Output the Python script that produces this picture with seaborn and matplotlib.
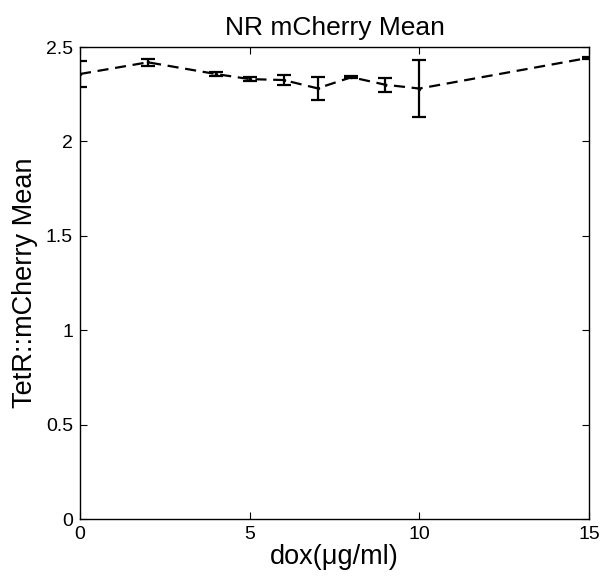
import matplotlib
matplotlib.use("Agg")
import matplotlib.pyplot as plt
import seaborn as sns
import pandas as pd

dox = [0, 2, 4, 5, 6, 7, 8, 9, 10, 15]
mean_vals = [2.357, 2.419, 2.357, 2.330, 2.325, 2.281, 2.340, 2.300, 2.280, 2.443]
err_vals = [0.067, 0.020, 0.008, 0.010, 0.025, 0.060, 0.005, 0.038, 0.152, 0.005]

df = pd.DataFrame({"dox": dox, "mean": mean_vals, "err": err_vals})

sns.set_style("white")
plt.rcParams['font.family'] = ['Liberation Sans', 'DejaVu Sans']
plt.rcParams['text.color'] = 'black'
plt.rcParams['axes.labelcolor'] = 'black'

fig = plt.figure(figsize=(6.0, 5.79), dpi=100)
ax = fig.add_axes([80/600, 1 - 519/579, (589-80)/600, (519-47)/579])

sns.lineplot(data=df, x="dox", y="mean", ax=ax, color="black", linestyle=(0, (5, 3)),
             linewidth=1.6, marker="o", markersize=2.5, markeredgewidth=0)
ax.errorbar(df["dox"], df["mean"], yerr=df["err"], fmt="none", ecolor="black",
            elinewidth=1.6, capsize=5, capthick=1.6)

ax.set_xlim(0, 15)
ax.set_ylim(0, 2.5)
ax.set_xticks([0, 5, 10, 15])
ax.set_yticks([0, 0.5, 1, 1.5, 2, 2.5])
ax.set_xticklabels(["0", "5", "10", "15"])
ax.set_yticklabels(["0", "0.5", "1", "1.5", "2", "2.5"])
ax.tick_params(direction="in", length=5, width=0.8, top=True, right=True,
               left=True, bottom=True, labelsize=14, colors="black", pad=5)
for s in ax.spines.values():
    s.set_color("black")
    s.set_linewidth(1.0)

ax.set_title("NR mCherry Mean", fontsize=19, pad=9, color="black")
ax.set_xlabel("dox(μg/ml)", fontsize=19.5, labelpad=1)
ax.set_ylabel("TetR::mCherry Mean", fontsize=19.5, labelpad=6)

fig.savefig("out.png", dpi=100)
